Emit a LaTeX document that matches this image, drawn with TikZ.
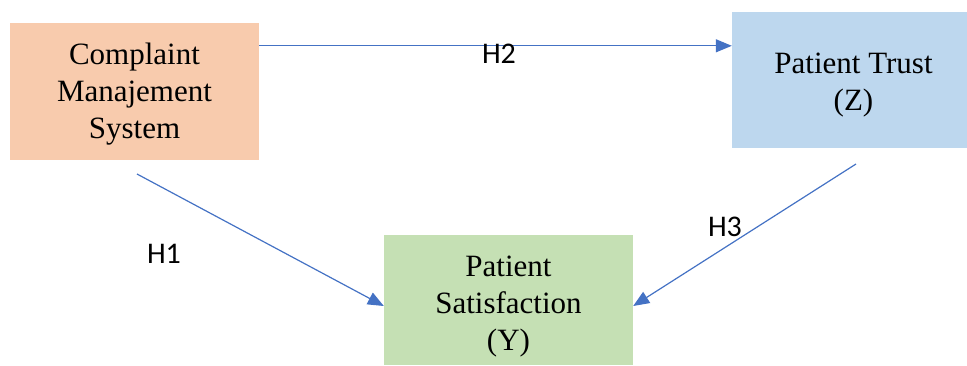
\documentclass[tikz,border=0pt]{standalone}
\usepackage{fontspec}
\setmainfont{Liberation Serif}
\newfontfamily\labfont{Carlito}
\usetikzlibrary{arrows.meta}
\definecolor{boxorange}{HTML}{F8CBAD}
\definecolor{boxblue}{HTML}{BDD7EE}
\definecolor{boxgreen}{HTML}{C5E0B4}
\definecolor{arrowblue}{HTML}{4472C4}
\tikzset{
  varbox/.style={inner sep=0pt},
  vartext/.style={inner sep=0pt, align=center, font=\fontsize{31}{37}\selectfont},
  link/.style={draw=arrowblue, line width=1.2pt, -{Triangle[length=16pt,width=13pt]}},
  hlab/.style={inner sep=0pt, font=\labfont\fontsize{30}{34}\selectfont}
}
\begin{document}
\begin{tikzpicture}[x=1pt,y=-1pt]
\useasboundingbox (0,0) rectangle (967,365);
\node[varbox, fill=boxorange, minimum width=249pt, minimum height=137pt] (b1) at (134.5,91.5) {};
\node[varbox, fill=boxblue, minimum width=235pt, minimum height=136pt] (b2) at (849.5,80) {};
\node[varbox, fill=boxgreen, minimum width=249pt, minimum height=130pt] (b3) at (508.5,300) {};
\node[vartext] (t1) at ([yshift=-3pt]b1.center) {Complaint\\Manajement\\System};
\node[vartext] (t2) at ([yshift=-5pt,xshift=4pt]b2.center) {Patient Trust\\(Z)};
\node[vartext] (t3) at ([yshift=-7pt]b3.center) {Patient\\Satisfaction\\(Y)};
\coordinate (h1s) at (137,174);
\coordinate (h3s) at (856,164);
\draw[link] ([yshift=-23pt]b1.north east) -- ([yshift=-23pt]b1.north east -| b2.west);
\draw[link] (h1s) -- ([yshift=-6pt]b3.west);
\draw[link] (h3s) -- ([yshift=-6pt]b3.east);
\node[hlab] (l2) at (499,54) {H2};
\node[hlab] (l1) at (164,254) {H1};
\node[hlab] (l3) at (725,227) {H3};
\end{tikzpicture}
\end{document}
